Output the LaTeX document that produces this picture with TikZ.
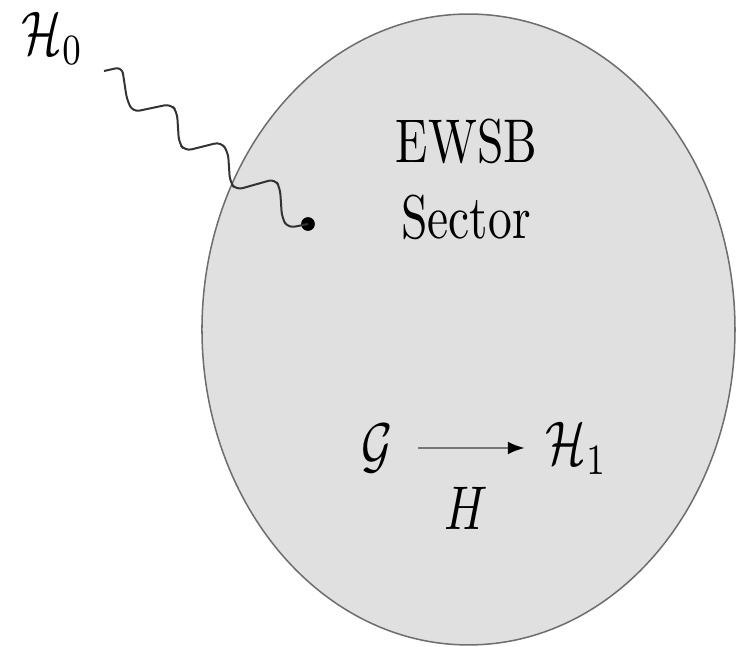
\documentclass[tikz,border=0pt]{standalone}
\usetikzlibrary{arrows.meta,shapes.geometric}
\newcommand{\vstretch}[1]{\scalebox{1}[1.3]{#1}}
\definecolor{regionfill}{HTML}{E0E0E0}
\definecolor{regionline}{HTML}{6E6E6E}
\definecolor{arrowgray}{HTML}{777777}
\begin{document}
\begin{tikzpicture}[x=0.2105pt,y=-0.2105pt,
  lbl/.style={inner sep=0pt, anchor=base, font=\fontsize{10}{12}\selectfont},
  region/.style={ellipse, draw=regionline, fill=regionfill, line width=0.32pt,
    minimum width=112.2pt, minimum height=132.8pt, inner sep=0pt, outer sep=0pt},
  wave/.style={draw=black!80, line width=0.42pt, rounded corners=1.4pt},
  vertexdot/.style={circle, fill=black, inner sep=0pt, minimum size=2.9pt},
  maparrow/.style={draw=arrowgray, line width=0.6pt,
    -{Latex[length=3.6pt,width=2.7pt,color=black]},
    shorten <=5.2pt, shorten >=4.2pt}]
\useasboundingbox (0,0) rectangle (737,647);
\node[region] (ewsb) at (468.5,329.5) {};
\node[lbl, anchor=base west] (h0) at (21,55) {\vstretch{$\mathcal{H}_0$}};
\node[lbl] (title1) at (466.5,163) {\vstretch{EWSB}};
\node[lbl] (title2) at (466,239) {\vstretch{Sector}};
\node[lbl] (G) at (377,467) {\vstretch{$\mathcal{G}$}};
\node[lbl, anchor=base west] (H1) at (545,465) {\vstretch{$\mathcal{H}_1$}};
\node[lbl] (Hmap) at (466.5,530) {\vstretch{$H$}};
\node[vertexdot] (dot) at (308,224) {};
\coordinate (w0) at (104,71);
\draw[wave] (w0) -- (122,67) -- (127,100) -- (133,112) -- (171,104)
  -- (177,112) -- (179,143) -- (185,151) -- (221,142) -- (228,152)
  -- (230,182) -- (236,190) -- (275,179) -- (280,188) -- (282,218)
  -- (288,228) -- (dot.center);
\draw[maparrow] (G.east |- 0,448) -- (H1.west |- 0,448);
\end{tikzpicture}
\end{document}
